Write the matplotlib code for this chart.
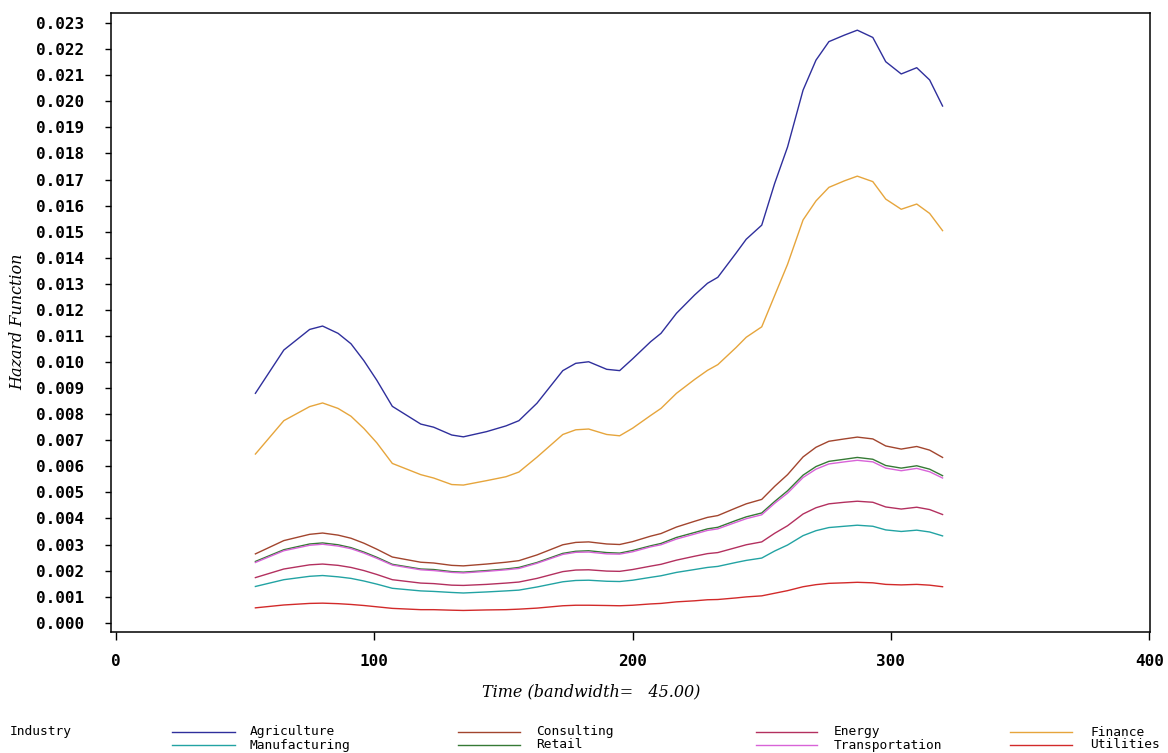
import matplotlib
matplotlib.use("Agg")
import matplotlib.pyplot as plt
from matplotlib.lines import Line2D
import numpy as np

# ---------------- data (hazard values in units of 0.001) ----------------
time = [54, 65, 75, 80, 86, 91, 96, 101, 107, 118,
        123, 130, 134.5, 143.5, 151, 156, 163, 173, 178, 183,
        190, 195, 200, 207, 211, 217, 224, 229, 233, 240,
        244, 250, 255, 260, 266, 271, 276, 282, 287, 293,
        298, 304, 310, 315, 320]

agriculture = [8.80, 10.46, 11.25, 11.38, 11.10, 10.70, 10.05, 9.30, 8.30, 7.62,
               7.50, 7.20, 7.13, 7.33, 7.55, 7.75, 8.42, 9.67, 9.95, 10.01,
               9.72, 9.67, 10.12, 10.78, 11.10, 11.87, 12.57, 13.02, 13.25, 14.17,
               14.71, 15.25, 16.85, 18.25, 20.43, 21.58, 22.29, 22.54, 22.73, 22.45,
               21.52, 21.05, 21.29, 20.82, 19.82]

finance = [6.47, 7.75, 8.29, 8.43, 8.22, 7.92, 7.45, 6.90, 6.11, 5.68,
           5.55, 5.30, 5.28, 5.45, 5.60, 5.78, 6.35, 7.22, 7.40, 7.43,
           7.22, 7.17, 7.46, 7.95, 8.22, 8.80, 9.33, 9.68, 9.90, 10.55,
           10.95, 11.35, 12.55, 13.75, 15.45, 16.18, 16.70, 16.95, 17.13, 16.92,
           16.25, 15.86, 16.06, 15.70, 15.04]

consulting = [2.64, 3.15, 3.39, 3.44, 3.36, 3.24, 3.05, 2.82, 2.52, 2.32,
              2.29, 2.20, 2.18, 2.25, 2.32, 2.38, 2.60, 2.99, 3.08, 3.10,
              3.02, 3.00, 3.11, 3.32, 3.42, 3.67, 3.89, 4.04, 4.11, 4.40,
              4.56, 4.73, 5.23, 5.68, 6.36, 6.73, 6.96, 7.05, 7.12, 7.05,
              6.78, 6.66, 6.76, 6.62, 6.34]

retail = [2.35, 2.80, 3.02, 3.06, 2.99, 2.88, 2.71, 2.51, 2.24, 2.06,
          2.04, 1.96, 1.94, 2.00, 2.06, 2.12, 2.31, 2.66, 2.74, 2.76,
          2.69, 2.67, 2.77, 2.95, 3.04, 3.27, 3.46, 3.60, 3.66, 3.92,
          4.06, 4.21, 4.65, 5.06, 5.66, 5.99, 6.19, 6.27, 6.34, 6.27,
          6.03, 5.93, 6.02, 5.89, 5.64]

transportation = [2.31, 2.76, 2.97, 3.01, 2.94, 2.84, 2.67, 2.47, 2.21, 2.03,
                  2.00, 1.93, 1.91, 1.97, 2.03, 2.08, 2.28, 2.62, 2.70, 2.71,
                  2.64, 2.63, 2.72, 2.91, 2.99, 3.21, 3.40, 3.54, 3.60, 3.85,
                  3.99, 4.14, 4.58, 4.97, 5.57, 5.89, 6.09, 6.17, 6.23, 6.17,
                  5.93, 5.83, 5.92, 5.79, 5.55]

energy = [1.73, 2.06, 2.22, 2.25, 2.20, 2.12, 2.00, 1.85, 1.65, 1.52,
          1.50, 1.44, 1.43, 1.47, 1.52, 1.56, 1.70, 1.96, 2.02, 2.03,
          1.98, 1.97, 2.04, 2.17, 2.24, 2.40, 2.55, 2.65, 2.69, 2.88,
          2.99, 3.10, 3.43, 3.72, 4.17, 4.41, 4.56, 4.62, 4.66, 4.62,
          4.44, 4.36, 4.43, 4.34, 4.15]

manufacturing = [1.39, 1.65, 1.78, 1.81, 1.76, 1.70, 1.60, 1.48, 1.32, 1.22,
                 1.20, 1.16, 1.14, 1.18, 1.22, 1.25, 1.37, 1.57, 1.62, 1.63,
                 1.59, 1.58, 1.63, 1.74, 1.80, 1.93, 2.04, 2.12, 2.16, 2.31,
                 2.39, 2.48, 2.75, 2.98, 3.34, 3.53, 3.65, 3.70, 3.74, 3.70,
                 3.56, 3.50, 3.55, 3.48, 3.33]

utilities = [0.57, 0.68, 0.74, 0.75, 0.73, 0.70, 0.66, 0.61, 0.55, 0.50,
             0.50, 0.48, 0.47, 0.49, 0.50, 0.52, 0.56, 0.65, 0.67, 0.67,
             0.66, 0.65, 0.67, 0.72, 0.74, 0.80, 0.84, 0.88, 0.89, 0.95,
             0.99, 1.03, 1.13, 1.23, 1.38, 1.46, 1.51, 1.53, 1.55, 1.53,
             1.47, 1.45, 1.47, 1.44, 1.38]

industries = ["Agriculture", "Consulting", "Energy", "Finance",
              "Manufacturing", "Retail", "Transportation", "Utilities"]
series = {"Agriculture": agriculture, "Consulting": consulting, "Energy": energy,
          "Finance": finance, "Manufacturing": manufacturing, "Retail": retail,
          "Transportation": transportation, "Utilities": utilities}
colors = {"Agriculture": "#2f2f9c", "Consulting": "#a2452e", "Energy": "#b3305f",
          "Finance": "#e6a53c", "Manufacturing": "#22a3a3", "Retail": "#357a35",
          "Transportation": "#d863d8", "Utilities": "#d22a2a"}

unit = 0.001
ytick_vals = [k * unit for k in range(24)]
xtick_vals = [0, 100, 200, 300, 400]

# ---------------- figure ----------------
W, H = 1168, 753
fig = plt.figure(figsize=(W / 100, H / 100), dpi=100)
fig.patch.set_facecolor("white")
L, R, T, B = 111, 1150, 12.7, 631.7
ax = fig.add_axes([L / W, 1 - B / H, (R - L) / W, (B - T) / H])

for name in industries:
    ax.plot(time, np.array(series[name]) * unit, color=colors[name], lw=1.0)

ax.set_xlim(-1.9, 400.3)
ax.set_ylim(-0.000345, 0.0234)

tickfont = dict(family="DejaVu Sans Mono", weight="bold", size=11.5)
ax.set_yticks(ytick_vals)
ax.set_yticklabels([f"{v:.3f}" for v in ytick_vals], fontdict=tickfont)
ax.set_xticks(xtick_vals)
ax.set_xticklabels([str(v) for v in xtick_vals], fontdict=tickfont)
ax.tick_params(axis="y", direction="out", length=4.5, width=1, pad=15, colors="black")
ax.tick_params(axis="x", direction="out", length=6, width=1, pad=10, colors="black")
for s in ax.spines.values():
    s.set_linewidth(1.1)
    s.set_color("black")

labfont = dict(family="DejaVu Serif", style="italic", size=11.5)
fig.text(18 / W, 1 - 322 / H, "Hazard Function", rotation=90, ha="center", va="center", **labfont)
fig.text(591 / W, 1 - 692 / H, "Time (bandwidth=   45.00)", ha="center", va="center", **labfont)

# ---------------- legend ----------------
legfont = dict(family="DejaVu Sans Mono", size=9.3)
fig.text(10 / W, 1 - 732 / H, "Industry", ha="left", va="center", **legfont)
col_line = [(172, 235), (458, 520), (756, 817), (1010, 1072)]
col_text = [250, 536, 834, 1090]
rows = [732, 745]
for i, name in enumerate(industries):
    r, c = divmod(i, 4)
    x0, x1 = col_line[c]
    yy = 1 - rows[r] / H
    fig.add_artist(Line2D([x0 / W, x1 / W], [yy, yy], color=colors[name], lw=1.0,
                          transform=fig.transFigure))
    fig.text(col_text[c] / W, yy, name, ha="left", va="center", **legfont)

fig.savefig("out.png", dpi=100, facecolor="white")
